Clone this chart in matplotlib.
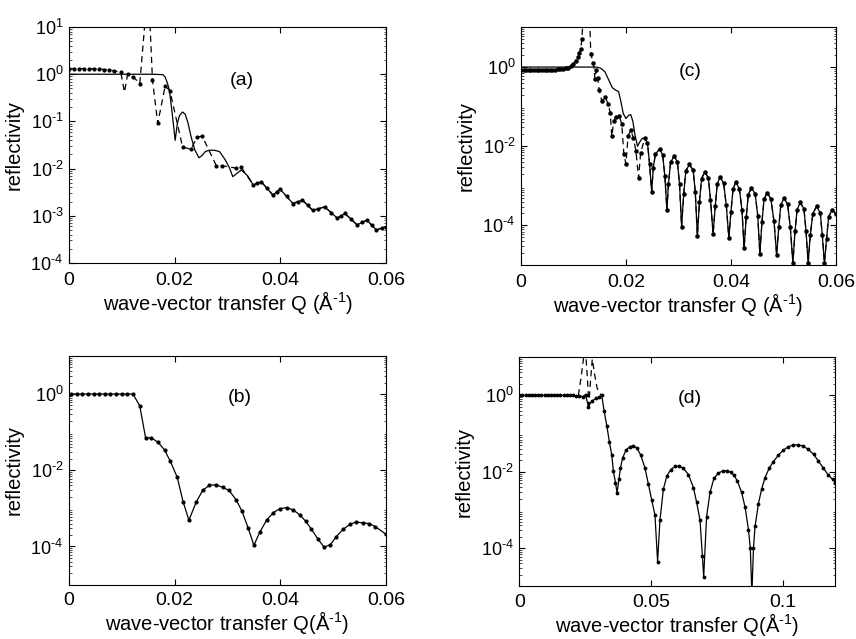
import numpy as np
import matplotlib
matplotlib.use('Agg')
import matplotlib.pyplot as plt
from matplotlib.ticker import NullLocator, FixedLocator, FixedFormatter, LogLocator, NullFormatter

plt.rcParams['font.family'] = ['Liberation Sans', 'DejaVu Sans']
plt.rcParams['mathtext.fontset'] = 'custom'
plt.rcParams['mathtext.rm'] = 'Liberation Sans'
plt.rcParams['mathtext.it'] = 'Liberation Sans:italic'
plt.rcParams['mathtext.bf'] = 'Liberation Sans:bold'

# ---------------- panel (a) ----------------
# measured data (dashed line + dots), log10 reflectivity
a_data_Q = [0.0000, 0.0010, 0.0019, 0.0029, 0.0038, 0.0048, 0.0057, 0.0067, 0.0076, 0.0086,
            0.0098, 0.0105, 0.0111, 0.0122, 0.0134, 0.0146, 0.0152, 0.0158, 0.0168, 0.0182,
            0.0191, 0.0215, 0.0231, 0.0242, 0.0252, 0.0279, 0.0290, 0.0317, 0.0326]
a_data_log = [0.12, 0.12, 0.12, 0.12, 0.12, 0.115, 0.11, 0.10, 0.09, 0.07,
              0.04, -0.38, 0.0, -0.06, -0.20, 1.40, 1.40, -0.12, -1.04, -0.25,
              -0.35, -1.54, -1.59, -1.34, -1.31, -1.94, -1.94, -1.99, -1.97]
# model curve (solid)
a_fit_Q = [0.0000, 0.0150, 0.0170, 0.0178, 0.0182, 0.0186, 0.0190, 0.0195, 0.0201, 0.0205,
           0.0209, 0.0215, 0.0220, 0.0225, 0.0231, 0.0238, 0.0246, 0.0252, 0.0258, 0.0265,
           0.0275, 0.0285, 0.0295, 0.0304, 0.0310, 0.0318, 0.0326, 0.0338]
a_fit_log = [0.0, 0.0, -0.005, -0.01, -0.06, -0.18, -0.33, -0.80, -1.40, -1.05,
             -0.88, -0.80, -0.85, -1.02, -1.32, -1.60, -1.77, -1.72, -1.64, -1.61,
             -1.61, -1.64, -1.80, -1.99, -2.17, -2.10, -2.03, -2.15]
# high-Q part where data and model coincide
a_tail_Q = [0.0349, 0.0356, 0.0364, 0.0375, 0.0386, 0.0393, 0.0400, 0.0412, 0.0424, 0.0433,
            0.0442, 0.0452, 0.0461, 0.0472, 0.0484, 0.0496, 0.0508, 0.0515, 0.0522, 0.0534,
            0.0545, 0.0555, 0.0564, 0.0573, 0.0582, 0.0592, 0.0600]
a_tail_log = [-2.35, -2.31, -2.28, -2.42, -2.56, -2.49, -2.44, -2.59, -2.74, -2.70,
              -2.67, -2.78, -2.88, -2.85, -2.81, -2.93, -3.05, -3.00, -2.95, -3.07,
              -3.19, -3.14, -3.09, -3.20, -3.30, -3.26, -3.23]

# ---------------- panel (b) ----------------
b_Q = [0.0004, 0.0015, 0.0025, 0.0036, 0.0047, 0.0057, 0.0068, 0.0078, 0.0089, 0.0100,
       0.0110, 0.0121, 0.0134, 0.0145, 0.0156, 0.0169, 0.0181, 0.0192, 0.0205, 0.0216,
       0.0227, 0.0241, 0.0253, 0.0265, 0.0278, 0.0291, 0.0303, 0.0316, 0.0327, 0.0339,
       0.0350, 0.0361, 0.0374, 0.0387, 0.0399, 0.0412, 0.0424, 0.0437, 0.0448, 0.0459,
       0.0471, 0.0483, 0.0495, 0.0506, 0.0519, 0.0532, 0.0543, 0.0556, 0.0568, 0.0580,
       0.0600]
b_log = [0.0, 0.0, 0.0, 0.0, 0.0, 0.0, 0.0, 0.0, 0.0, 0.0,
         0.0, 0.0, -0.31, -1.15, -1.15, -1.27, -1.47, -1.77, -2.19, -2.83,
         -3.31, -2.83, -2.53, -2.40, -2.38, -2.45, -2.53, -2.77, -3.06, -3.51,
         -3.97, -3.63, -3.31, -3.11, -3.01, -2.98, -3.04, -3.17, -3.34, -3.55,
         -3.80, -4.02, -3.95, -3.74, -3.55, -3.42, -3.36, -3.38, -3.40, -3.48,
         -3.68]

# ---------------- panel (c) ----------------
c_data_Q = [0.0000, 0.0005, 0.0010, 0.0015, 0.0020, 0.0025, 0.0030, 0.0035, 0.0040, 0.0045,
            0.0050, 0.0055, 0.0060, 0.0065, 0.0070, 0.0075, 0.0080, 0.0085, 0.0090, 0.0095,
            0.0100, 0.0104, 0.0108, 0.0111, 0.0114, 0.0116, 0.0120, 0.0130, 0.0133, 0.0138,
            0.0141, 0.0143, 0.0146, 0.0149, 0.0154, 0.0160, 0.0166, 0.0170, 0.0173, 0.0177,
            0.0181, 0.0187, 0.0192, 0.0196, 0.0200, 0.0204, 0.0209, 0.0214, 0.0219, 0.0224,
            0.0228]
c_data_log = [-0.08, -0.08, -0.08, -0.08, -0.08, -0.08, -0.08, -0.08, -0.08, -0.08,
              -0.08, -0.075, -0.07, -0.065, -0.06, -0.05, -0.04, -0.035, -0.03, 0.02,
              0.08, 0.16, 0.26, 0.36, 0.46, 0.72, 1.60, 1.60, 0.32, 0.11,
              -0.30, -0.08, -0.28, -0.58, -0.86, -0.75, -0.93, -1.15, -1.75, -1.35,
              -1.27, -1.23, -1.44, -2.20, -2.45, -1.74, -1.60, -1.78, -2.12, -2.80,
              -2.16]
c_fit_Q = [0.0000, 0.0144, 0.0152, 0.0160, 0.0168, 0.0174, 0.0180, 0.0186, 0.0190, 0.0195,
           0.0200, 0.0205, 0.0209, 0.0213, 0.0217, 0.0222, 0.0226, 0.0231]
c_fit_log = [0.0, 0.0, -0.03, -0.12, -0.35, -0.52, -0.58, -0.62, -0.85, -1.18,
             -1.30, -1.22, -1.20, -1.36, -1.70, -2.00, -1.90, -1.80]
# oscillating fringes where data and model coincide
c_osc_Q = [0.0236, 0.0241, 0.0245, 0.0249, 0.0252, 0.0256, 0.0264, 0.0270, 0.0274, 0.0278,
           0.0281, 0.0285, 0.0292, 0.0298, 0.0302, 0.0306, 0.0310, 0.0314, 0.0321, 0.0328,
           0.0332, 0.0336, 0.0340, 0.0344, 0.0350, 0.0357, 0.0361, 0.0366, 0.0370, 0.0374,
           0.0379, 0.0386, 0.0391, 0.0396, 0.0400, 0.0404, 0.0409, 0.0416, 0.0421, 0.0425,
           0.0429, 0.0433, 0.0439, 0.0446, 0.0451, 0.0455, 0.0459, 0.0463, 0.0469, 0.0476,
           0.0482, 0.0487, 0.0491, 0.0495, 0.0501, 0.0508, 0.0513, 0.0518, 0.0522, 0.0526,
           0.0532, 0.0539, 0.0543, 0.0547, 0.0551, 0.0556, 0.0563, 0.0570, 0.0574, 0.0578,
           0.0582, 0.0586, 0.0593, 0.0600]
c_osc_log = [-1.80, -1.92, -2.45, -3.15, -2.55, -2.20, -2.07, -2.22, -2.75, -3.60,
             -2.95, -2.40, -2.25, -2.40, -2.95, -4.03, -3.20, -2.62, -2.46, -2.61,
             -3.15, -4.26, -3.40, -2.82, -2.65, -2.80, -3.35, -4.22, -3.52, -2.95,
             -2.78, -2.93, -3.48, -4.32, -3.65, -3.08, -2.91, -3.07, -3.62, -4.58,
             -3.80, -3.22, -3.05, -3.20, -3.75, -4.72, -3.92, -3.34, -3.17, -3.33,
             -3.90, -4.75, -4.05, -3.48, -3.31, -3.47, -4.05, -4.95, -4.15, -3.60,
             -3.42, -3.58, -4.15, -4.95, -4.25, -3.70, -3.52, -3.68, -4.25, -4.95,
             -4.35, -3.78, -3.60, -3.72]

# ---------------- panel (d) ----------------
d_fit_Q = [0.0000, 0.0012, 0.0024, 0.0036, 0.0048, 0.0060, 0.0072, 0.0084, 0.0096, 0.0108,
           0.0120, 0.0132, 0.0144, 0.0156, 0.0168, 0.0180, 0.0192, 0.0204, 0.0216, 0.0228,
           0.0240, 0.0252, 0.0262, 0.0275, 0.0290, 0.0302, 0.0313, 0.0322, 0.0332, 0.0342,
           0.0351, 0.0357, 0.0365, 0.0371, 0.0378, 0.0384, 0.0392, 0.0405, 0.0420, 0.0433,
           0.0446, 0.0461, 0.0477, 0.0490, 0.0503, 0.0515, 0.0525, 0.0534, 0.0547, 0.0560,
           0.0575, 0.0591, 0.0606, 0.0623, 0.0642, 0.0661, 0.0673, 0.0686, 0.0695, 0.0700,
           0.0711, 0.0724, 0.0739, 0.0756, 0.0772, 0.0787, 0.0802, 0.0815, 0.0828, 0.0844,
           0.0857, 0.0870, 0.0877, 0.0883, 0.0889, 0.0895, 0.0908, 0.0920, 0.0933, 0.0949,
           0.0965, 0.0984, 0.1003, 0.1022, 0.1040, 0.1059, 0.1078, 0.1097, 0.1117, 0.1135,
           0.1154, 0.1173, 0.1190, 0.1200]
d_fit_log = [0.0, 0.0, 0.0, 0.0, 0.0, 0.0, 0.0, 0.0, 0.0, 0.0,
             0.0, 0.0, 0.0, 0.0, 0.0, 0.0, 0.0, 0.0, -0.01, -0.02,
             -0.03, 0.02, -0.30, -0.15, -0.08, -0.04, 0.0, -0.41, -0.79, -1.22,
             -1.56, -1.98, -2.28, -2.55, -2.20, -1.90, -1.64, -1.43, -1.34, -1.32,
             -1.37, -1.56, -1.90, -2.32, -2.75, -3.13, -4.35, -3.26, -2.45, -2.11,
             -1.94, -1.86, -1.85, -1.91, -2.07, -2.41, -2.79, -3.26, -4.20, -4.75,
             -3.17, -2.54, -2.17, -2.03, -1.98, -1.97, -2.01, -2.09, -2.24, -2.54,
             -2.92, -3.51, -4.00, -5.20, -4.00, -3.43, -2.83, -2.45, -2.15, -1.90,
             -1.73, -1.56, -1.43, -1.34, -1.30, -1.29, -1.33, -1.41, -1.54, -1.71,
             -1.90, -2.08, -2.20, -2.28]
d_dash_Q = [0.0224, 0.0234, 0.0250, 0.0258, 0.0264, 0.0271, 0.0277, 0.0286, 0.0295, 0.0305, 0.0313]
d_dash_log = [0.0, 0.45, 1.30, 0.50, -0.25, 0.45, 0.95, 0.55, 0.20, 0.05, 0.0]

# ---------------- axes / labels ----------------
xt_006 = [0, 0.02, 0.04, 0.06]
xt_006_lab = ['0', '0.02', '0.04', '0.06']
xt_012 = [0, 0.05, 0.1]
xt_012_lab = ['0', '0.05', '0.1']
yt_a_exp = [-4, -3, -2, -1, 0, 1]
yt_b_exp = [-4, -2, 0]
ylab = 'reflectivity'


def exp_label(e, hyphen=True):
    if e < 0:
        s = (r'\text{-}' if hyphen else '-') + str(-e)
    else:
        s = str(e)
    return r'$\mathdefault{10^{%s}}$' % s


def xlab(space, hyphen=True):
    m = r'\text{-}1' if hyphen else '-1'
    return 'wave-vector transfer Q' + (' ' if space else '') + r'(Å$^{\mathdefault{%s}}$)' % m


FS_LAB = 14.5
FS_X = 14
FS_Y = 13
LW = 0.9
DASH = (0, (5, 3.5))


def build(hyphen):
    fig = plt.figure(figsize=(8.56, 6.39), dpi=100)
    ax_a = fig.add_axes([0.0806, 0.5884, 0.3703, 0.3693])
    ax_c = fig.add_axes([0.6086, 0.5853, 0.3680, 0.3717])
    ax_b = fig.add_axes([0.0806, 0.0852, 0.3703, 0.3578])
    ax_d = fig.add_axes([0.6067, 0.0822, 0.3692, 0.3588])

    def R(v):
        return np.power(10.0, np.asarray(v, dtype=float))

    def style(ax, xlim, xt, xtl, ylim, yexp, xl, tag, tagpos, bottom_row=False):
        ax.set_yscale('log')
        ax.set_xlim(*xlim)
        ax.set_ylim(*ylim)
        ax.xaxis.set_major_locator(FixedLocator(xt))
        ax.xaxis.set_major_formatter(FixedFormatter(xtl))
        ax.yaxis.set_major_locator(FixedLocator([10.0 ** e for e in yexp]))
        ax.yaxis.set_major_formatter(FixedFormatter([exp_label(e, hyphen) for e in yexp]))
        ax.yaxis.set_minor_locator(LogLocator(base=10, subs=np.arange(2, 10), numticks=20))
        ax.yaxis.set_minor_formatter(NullFormatter())
        ax.xaxis.set_minor_locator(NullLocator())
        ax.tick_params(axis='both', which='major', direction='in', top=True, right=True,
                       length=4, width=0.8)
        ax.tick_params(axis='y', which='minor', direction='in', left=True, right=True,
                       length=1.8, width=0.5)
        ax.tick_params(axis='x', which='major', labelsize=FS_X,
                       pad=5.5 if bottom_row else 6.5)
        ax.tick_params(axis='y', which='major', labelsize=FS_Y, pad=4)
        for s in ax.spines.values():
            s.set_linewidth(0.8)
        ax.set_ylabel(ylab, fontsize=FS_LAB, labelpad=5)
        ax.set_xlabel(xl, fontsize=FS_LAB, labelpad=0)
        ax.text(tagpos[0], tagpos[1], tag, transform=ax.transAxes, fontsize=FS_X,
                ha='center', va='center')

    # (a)
    ax_a.plot(np.concatenate([a_fit_Q, a_tail_Q]), R(np.concatenate([a_fit_log, a_tail_log])),
              color='k', lw=LW)
    n_a = len(a_data_Q) + len(a_tail_Q)
    ax_a.plot(np.concatenate([a_data_Q, a_tail_Q]), R(np.concatenate([a_data_log, a_tail_log])),
              color='k', lw=LW, ls=DASH, marker='.', ms=4,
              markevery=[i for i in range(n_a) if i != 11])
    style(ax_a, (0, 0.06), xt_006, xt_006_lab, (1e-4, 1e1), yt_a_exp, xlab(True, hyphen),
          '(a)', (0.545, 0.775))

    # (b)
    ax_b.plot(b_Q, R(b_log), color='k', lw=LW, marker='.', ms=4)
    style(ax_b, (0, 0.06), xt_006, xt_006_lab, (1e-5, 1e1), yt_b_exp, xlab(False, hyphen),
          '(b)', (0.54, 0.82), bottom_row=True)

    # (c)
    ax_c.plot(np.concatenate([c_fit_Q, c_osc_Q]), R(np.concatenate([c_fit_log, c_osc_log])),
              color='k', lw=LW)
    ax_c.plot(np.concatenate([c_data_Q, c_osc_Q]), R(np.concatenate([c_data_log, c_osc_log])),
              color='k', lw=LW, ls=DASH, marker='.', ms=4.5)
    style(ax_c, (0, 0.06), xt_006, xt_006_lab, (1e-5, 1e1), yt_b_exp, xlab(True, hyphen),
          '(c)', (0.537, 0.816))

    # (d)
    ax_d.plot(d_dash_Q, R(d_dash_log), color='k', lw=LW, ls=DASH)
    ax_d.plot(d_fit_Q, R(d_fit_log), color='k', lw=LW, marker='.', ms=3.5)
    style(ax_d, (0, 0.12), xt_012, xt_012_lab, (1e-5, 1e1), yt_b_exp, xlab(False, hyphen),
          '(d)', (0.54, 0.818), bottom_row=True)

    fig.savefig('out.png', dpi=100)
    plt.close(fig)


try:
    build(True)
except Exception:
    build(False)
